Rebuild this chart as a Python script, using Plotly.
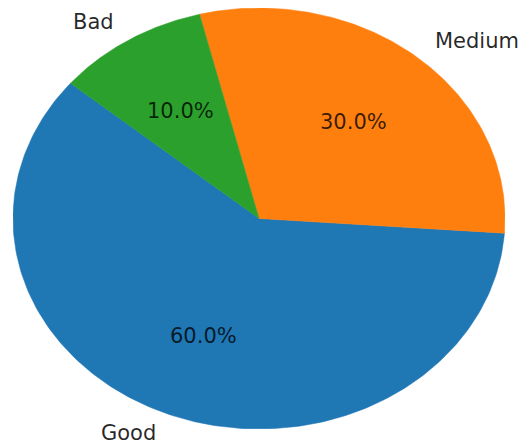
import numpy as np
import plotly.graph_objects as go

labels = ["Good", "Medium", "Bad"]
values = [60, 30, 10]
colors = ["#1f77b4", "#ff7f0e", "#2ca02c"]
start_angle = 140  # degrees, counter-clockwise like matplotlib

total = sum(values)
fig = go.Figure()
annotations = []


def to_paper(v):
    # axis ranges are [-1, 1]; map to paper coordinates so labels outside the range still show
    return (v + 1.0) / 2.0


theta0 = start_angle
for lab, val, col in zip(labels, values, colors):
    span = 360.0 * val / total
    th = np.radians(np.linspace(theta0, theta0 + span, 200))
    xs = np.concatenate([[0], np.cos(th), [0]])
    ys = np.concatenate([[0], np.sin(th), [0]])
    fig.add_trace(go.Scatter(x=xs, y=ys, fill="toself", fillcolor=col,
                             mode="lines", line=dict(color=col, width=0.5),
                             hoverinfo="skip", showlegend=False))
    mid = np.radians(theta0 + span / 2)
    cx, cy = np.cos(mid), np.sin(mid)
    annotations.append(dict(x=to_paper(1.1 * cx), y=to_paper(1.1 * cy), xref="paper", yref="paper",
                            text=lab, showarrow=False,
                            xanchor="left" if cx > 0 else "right", yanchor="middle",
                            font=dict(family="DejaVu Sans", size=21, color="rgba(0,0,0,0.85)")))
    annotations.append(dict(x=to_paper(0.6 * cx), y=to_paper(0.6 * cy), xref="paper", yref="paper",
                            text=f"{100.0 * val / total:.1f}%",
                            showarrow=False, xanchor="center", yanchor="middle",
                            font=dict(family="DejaVu Sans", size=21, color="rgba(0,0,0,0.78)")))
    theta0 += span

# page body has an 8px default margin, so the figure is sized to fit the window
fig.update_layout(
    width=521, height=439,
    margin=dict(l=5, r=24, t=0, b=18),
    paper_bgcolor="white", plot_bgcolor="white",
    xaxis=dict(range=[-1, 1], visible=False, fixedrange=True),
    yaxis=dict(range=[-1, 1], visible=False, fixedrange=True),
    annotations=annotations,
    showlegend=False,
)
fig.write_html("out.html")
